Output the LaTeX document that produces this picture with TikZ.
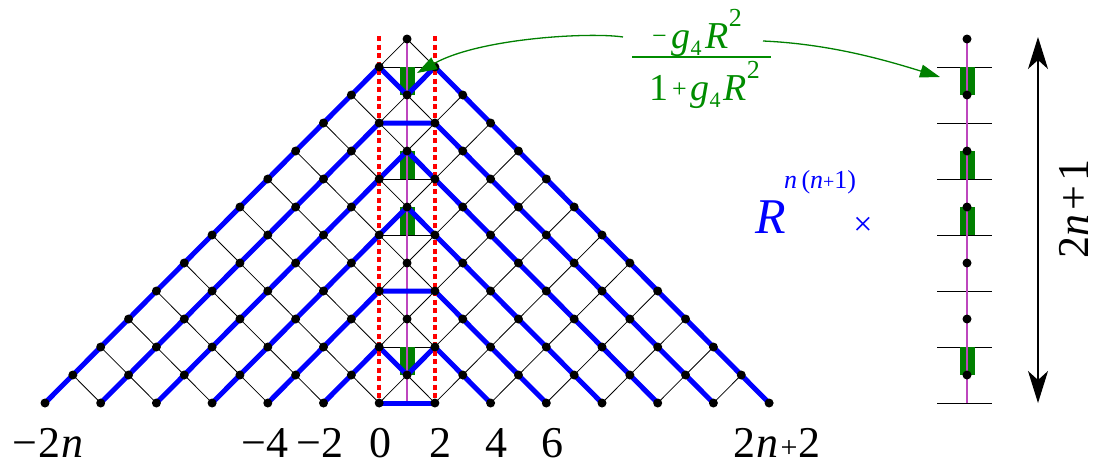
\documentclass[tikz,border=0pt]{standalone}
\usepackage{fontspec}
\setmainfont{Liberation Serif}
\usetikzlibrary{arrows.meta,calc}
\definecolor{mag}{RGB}{190,70,190}
\definecolor{grn}{RGB}{0,128,0}
\definecolor{grntext}{RGB}{0,140,0}
\newcommand{\Sbx}[1]{\raisebox{-7pt}{\fontsize{22}{22}\selectfont #1}}
\newcommand{\Spx}[1]{\raisebox{22pt}{\fontsize{26}{26}\selectfont #1}}
\begin{document}
\begin{tikzpicture}[x=1pt,y=-1pt,
  lat/.style={black,line width=0.8pt},
  bluepath/.style={blue,line width=5pt,line join=round},
  reddot/.style={red,line width=3.5pt,dash pattern=on 5pt off 3.5pt},
  magline/.style={mag,line width=1.6pt},
  dotn/.style={circle,fill=black,inner sep=0pt,minimum size=9pt},
  lbl/.style={font=\fontsize{44}{44}\selectfont,inner sep=0pt,anchor=base},
  garrow/.style={grn,line width=1.3pt,-{Triangle[length=20pt,width=13pt]}},
  ftxt/.style={font=\fontsize{38}{38}\selectfont,text=grntext,inner sep=0pt,anchor=base}]
\useasboundingbox (0,0) rectangle (1097,466);
% lattice coordinates
\foreach \j in {0,...,12}{
  \pgfmathtruncatemacro{\jj}{\j+2}
  \pgfmathtruncatemacro{\imax}{26-\j}
  \foreach \i in {\j,\jj,...,\imax}{
    \coordinate (p\i-\j) at ({45+27.85*\i},{403-28*\j});
  }
}
\coordinate (p13-13) at ({45+27.85*13},{403-28*13});
% thin lattice edges
\foreach \j in {0,...,12}{
  \pgfmathtruncatemacro{\jj}{\j+2}
  \pgfmathtruncatemacro{\imax}{26-\j}
  \pgfmathtruncatemacro{\jn}{\j+1}
  \foreach \i in {\j,\jj,...,\imax}{
    \pgfmathtruncatemacro{\ir}{\i+1}
    \pgfmathtruncatemacro{\il}{\i-1}
    \ifnum\i<\imax \draw[lat] (p\i-\j) -- (p\ir-\jn);\fi
    \ifnum\i>\j \draw[lat] (p\i-\j) -- (p\il-\jn);\fi
  }
}
% thin horizontals in the centre strip
\draw[lat] (p12-12) -- (p14-12);
\draw[lat] (p12-8) -- (p14-8);
\draw[lat] (p12-6) -- (p14-6);
\draw[lat] (p12-2) -- (p14-2);
% green weights (centre)
\fill[grn] ($(p13-13 |- p12-12)+(-7.5,0)$) rectangle ($(p13-11)+(7.5,0)$);
\fill[grn] ($(p13-9)+(-7.5,0)$) rectangle ($(p13-13 |- p12-8)+(7.5,0)$);
\fill[grn] ($(p13-7)+(-7.5,0)$) rectangle ($(p13-13 |- p12-6)+(7.5,0)$);
\fill[grn] ($(p13-13 |- p12-2)+(-7.5,0)$) rectangle ($(p13-1)+(7.5,0)$);
% magenta axis
\draw[magline] (p13-13) -- (p12-0 -| p13-13);
% blue paths
\draw[bluepath] (p0-0) -- (p12-12) -- (p13-11) -- (p14-12) -- (p26-0);
\draw[bluepath] (p2-0) -- (p12-10) -- (p14-10) -- (p24-0);
\draw[bluepath] (p4-0) -- (p12-8) -- (p13-9) -- (p14-8) -- (p22-0);
\draw[bluepath] (p6-0) -- (p12-6) -- (p13-7) -- (p14-6) -- (p20-0);
\draw[bluepath] (p8-0) -- (p12-4) -- (p14-4) -- (p18-0);
\draw[bluepath] (p10-0) -- (p12-2) -- (p13-1) -- (p14-2) -- (p16-0);
\draw[bluepath] (p12-0) -- (p14-0);
% red dotted strip boundaries
\draw[reddot] ($(p12-0 |- p13-13)+(0,-3)$) -- (p12-0);
\draw[reddot] ($(p14-0 |- p13-13)+(0,-3)$) -- (p14-0);
% dots
\foreach \j in {0,...,12}{
  \pgfmathtruncatemacro{\jj}{\j+2}
  \pgfmathtruncatemacro{\imax}{26-\j}
  \foreach \i in {\j,\jj,...,\imax}{
    \node[dotn] (d\i-\j) at (p\i-\j) {};
  }
}
\node[dotn] (d13-13) at (p13-13) {};
% right column
\foreach \j in {0,...,13} \coordinate (q\j) at (967,{403-28*\j});
\foreach \j in {0,2,...,12} \draw[lat] ($(q\j)+(-30,0)$) -- ($(q\j)+(25,0)$);
\fill[grn] ($(q12)+(-7.5,0)$) rectangle ($(q11)+(7.5,0)$);
\fill[grn] ($(q9)+(-7.5,0)$) rectangle ($(q8)+(7.5,0)$);
\fill[grn] ($(q7)+(-7.5,0)$) rectangle ($(q6)+(7.5,0)$);
\fill[grn] ($(q2)+(-7.5,0)$) rectangle ($(q1)+(7.5,0)$);
\draw[magline] (q13) -- (q0);
\foreach \j in {1,3,...,13} \node[dotn] (r\j) at (q\j) {};
% double arrow and its label
\coordinate (atop) at (1038,37);
\coordinate (abot) at (1038,403);
\draw[line width=1.3pt,{Stealth[length=32pt,width=20pt,inset=9pt]}-{Stealth[length=32pt,width=20pt,inset=9pt]}] (atop) -- (abot);
\node[rotate=90,anchor=base,inner sep=0pt,font=\fontsize{44}{44}\selectfont] (hlab) at (1088,209) {2\textit{n}\kern4pt+\kern4pt1};
% weight fraction
\node[ftxt] (fnum) at (697,48) {{\fontsize{26}{26}\selectfont\raisebox{4pt}{−}}\kern5pt\textit{g}\Sbx{4}\kern4pt\textit{R}\Spx{2}};
\node[ftxt] (fden) at (704.5,100) {1\kern4pt{\fontsize{26}{26}\selectfont\raisebox{3pt}{+}}\kern4pt\textit{g}\Sbx{4}\kern3pt\textit{R}\Spx{2}};
\coordinate (fbl) at (632,57);
\coordinate (fbr) at (771,57);
\draw[grntext,line width=1.5pt] (fbl) -- (fbr);
\coordinate (lstart) at (623,37);
\coordinate (ltip) at (417,73);
\coordinate (rstart) at (763,41);
\coordinate (rtip) at (940,77);
\draw[garrow] (lstart) .. controls (590,32) and (480,38) .. (ltip);
\draw[garrow] (rstart) .. controls (830,44) and (885,60) .. (rtip);
% blue prefactor
\node[anchor=base west,inner sep=0pt,text=blue,font=\fontsize{50}{50}\selectfont] (Rb) at (755,233) {\textit{R}};
\node[anchor=base west,inner sep=0pt,text=blue,font=\fontsize{26}{26}\selectfont] (Re) at (784,188) {\textit{n}\,(\textit{n}{\fontsize{20}{20}\selectfont+}1)};
\node[anchor=base,inner sep=0pt,text=blue,font=\fontsize{34}{34}\selectfont] (Rx) at (863,235) {×};
% bottom labels
\node[lbl] (lm2n) at (48,457) {−\kern2pt2\kern1pt\textit{n}};
\node[lbl] (lm4) at (265,457) {−4};
\node[lbl] (lm2) at (320,457) {−2};
\node[lbl] (l0) at (380,457) {0};
\node[lbl] (l2) at (440,457) {2};
\node[lbl] (l4) at (496,457) {4};
\node[lbl] (l6) at (552,457) {6};
\node[lbl] (l2n2) at (777,457) {2\kern1pt\textit{n}\kern2pt{\fontsize{30}{30}\selectfont+}\kern1pt2};
\end{tikzpicture}
\end{document}
